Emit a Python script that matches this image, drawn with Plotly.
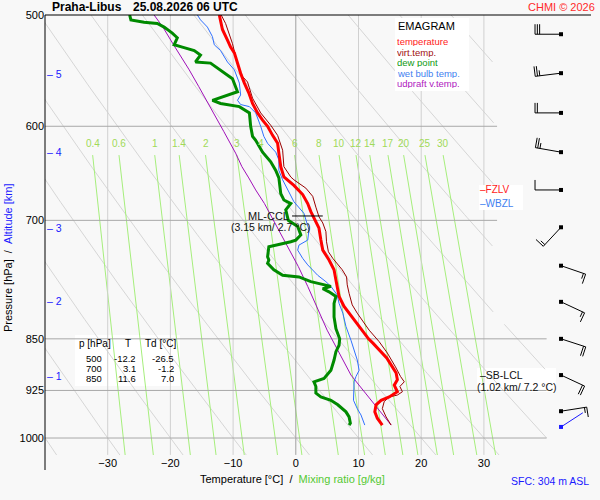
import numpy as np
import plotly.graph_objects as go

FONT = "Arial, Liberation Sans, sans-serif"
BG = "#f8f8f8"

# sounding: pressure [hPa] / temperature [degC]
temp_p = [500, 512, 521, 527, 532, 541, 550, 559, 568, 578, 587, 594, 600, 609, 617, 627, 641, 652, 661, 671,
          681, 690, 700, 709, 723, 735, 747, 759, 772, 782, 793, 806, 820, 833, 842, 850, 856, 866, 877, 890,
          899, 909, 917, 927, 935, 940, 947, 958, 968, 979]
temp_t = [-12.2, -11.7, -10.9, -10.4, -9.8, -9.3, -8.8, -8.2, -7.5, -6.9, -6.1, -5.3, -4.5, -3.7, -2.9, -2.7, -2.4, -1.9, -0.3, 1.1,
          1.9, 2.4, 3.1, 3.7, 4.0, 4.3, 5.3, 6.1, 6.4, 6.6, 6.9, 7.7, 9.0, 10.1, 10.9, 11.6, 12.3, 13.4, 14.5, 15.4,
          16.0, 16.2, 15.7, 16.2, 14.9, 13.6, 12.8, 12.6, 13.0, 13.8]

virt_p = [500, 507, 524, 544, 553, 558, 573, 587, 599, 609, 624, 641, 652, 655, 664, 673, 685, 696, 703, 713,
          725, 737, 745, 753, 759, 768, 778, 789, 804, 815, 833, 838, 854, 870, 890, 904, 912, 919, 927, 932,
          935, 942, 953, 966, 979]
virt_t = [-11.9, -11.2, -10.1, -9.2, -8.5, -7.7, -6.9, -5.6, -4.0, -2.9, -2.1, -1.9, -0.8, -0.3, 1.6, 2.7, 3.2, 3.7, 4.3, 4.8,
          4.9, 5.2, 5.9, 6.7, 7.4, 8.1, 8.2, 8.5, 9.0, 9.8, 11.2, 11.7, 13.3, 14.6, 15.9, 16.7, 17.3, 16.6, 17.0, 16.2,
          14.9, 14.1, 13.8, 14.4, 15.2]

dew_p = [500, 504, 506, 507, 510, 515, 519, 525, 527, 530, 534, 540, 541, 547, 555, 567, 575, 578, 581, 587,
         600, 610, 614, 626, 636, 645, 653, 670, 677, 681, 688, 700, 707, 717, 723, 725, 731, 743, 747, 751,
         759, 766, 768, 774, 778, 780, 783, 787, 793, 802, 820, 836, 850, 859, 868, 880, 895, 907, 912, 919,
         929, 935, 940, 947, 958, 966, 976, 979]
dew_t = [-26.5, -26.3, -24.2, -22.1, -21.0, -19.7, -18.9, -19.4, -18.1, -16.2, -15.2, -16.0, -13.6, -12.0, -10.1, -9.3, -13.3, -12.0, -9.0, -7.4,
         -7.2, -6.9, -6.4, -5.3, -4.0, -3.2, -2.7, -2.4, -1.9, -0.8, -1.6, -1.2, 0.3, 0.8, 0.0, -0.8, -4.3, -4.5, -4.3, -4.5,
         -3.5, -2.1, 0.5, 2.4, 4.3, 5.6, 4.3, 5.3, 6.4, 6.1, 6.1, 6.4, 7.0, 6.9, 6.4, 6.1, 5.6, 4.5, 2.9, 3.2,
         3.2, 4.0, 5.6, 6.7, 8.0, 8.5, 8.7, 8.5]

wet_p = [500, 504, 510, 518, 525, 530, 540, 547, 559, 570, 575, 579, 581, 587, 600, 610, 617, 626, 634, 645,
         655, 668, 679, 692, 700, 711, 723, 729, 735, 745, 753, 766, 774, 780, 791, 802, 815, 833, 852, 866,
         880, 895, 904, 912, 927, 940, 953, 963, 979]
wet_t = [-15.7, -15.2, -14.1, -13.3, -13.0, -12.0, -10.9, -9.8, -9.0, -8.8, -9.3, -8.8, -7.4, -6.4, -5.6, -5.1, -4.5, -3.2, -2.7, -2.7,
         -2.1, -1.1, -0.3, 1.3, 1.6, 2.1, 1.9, 0.5, 0.3, 1.1, 1.9, 3.5, 4.8, 5.6, 6.6, 6.9, 7.5, 8.0, 8.8, 9.3,
         9.8, 10.1, 9.6, 9.3, 9.2, 9.2, 9.8, 10.4, 11.0]

parcel_p = [500, 510, 525, 547, 562, 575, 584, 605, 627, 641, 653, 666, 681, 703, 727, 755, 780, 811, 838, 866,
            902, 929, 951, 979]
parcel_t = [-22.6, -21.2, -19.5, -17.0, -15.5, -14.3, -13.4, -11.5, -9.6, -8.6, -7.5, -6.4, -5.0, -3.3, -1.5, 0.4, 1.9, 3.6, 5.0, 6.7,
            8.8, 11.1, 12.9, 15.2]

# mixing ratio lines [g/kg]: temperature where each line meets 629 hPa and 1030 hPa
mr_labels = ["0.4", "0.6", "1", "1.4", "2", "3", "4", "6", "8", "10", "12", "14", "17", "20", "25", "30"]
mr_t_top = [-32.4, -28.2, -22.5, -18.6, -14.4, -9.4, -5.6, -0.2, 3.7, 6.9, 9.6, 11.8, 14.7, 17.2, 20.6, 23.5]
mr_t_bottom = [-27.2, -22.7, -16.8, -12.7, -8.2, -2.9, 1.0, 6.8, 11.0, 14.3, 17.1, 19.5, 22.6, 25.2, 28.9, 31.9]

# dry adiabats, labelled by their temperature at 1000 hPa
dry_t1000 = [-40, -30, -20, -10, 0, 10, 20, 30, 40, 50, 60, 70, 80, 90]

# winds: level [hPa], direction [deg], speed [kt]
wind_p = [516, 550, 587, 626, 666, 708, 754, 800, 850, 902, 957]
wind_dir = [270, 263, 270, 280, 270, 223, 109, 115, 108, 115, 81]
wind_kt = [30, 25, 20, 25, 10, 15, 15, 15, 20, 20, 15]
sfc_p, sfc_dir, sfc_kt = 982, 57, 3

alt_km = [1, 2, 3, 4, 5]
alt_p = [903, 799, 709, 626, 551]

table_p = [500, 700, 850]
table_t = [-12.2, 3.1, 11.6]
table_td = [-26.5, -1.2, 7.0]

fzlv_p, wbzl_p = 666, 681
ccl_p, ccl_t0, ccl_t1 = 695, -0.6, 4.3
lcl_p = 902

# plot frame (pixels) and axis ranges
X0, X1 = -40.0, 47.08
P_TOP, P_BOT = 500.0, 1028.2
LEFT, TOP, WIDTH, HEIGHT = 45, 15, 546, 440
LOGSPAN = np.log(P_BOT / P_TOP)


def to_px(t, p):
    return LEFT + (t - X0) / (X1 - X0) * WIDTH, TOP + np.log(p / P_TOP) / LOGSPAN * HEIGHT


def from_px(x, y):
    return X0 + (x - LEFT) / WIDTH * (X1 - X0), P_TOP * np.exp((y - TOP) / HEIGHT * LOGSPAN)


def paper(x, y):
    return (x - LEFT) / WIDTH, 1 - (y - TOP) / HEIGHT


def barb(p, direction, speed, t_pos=42.3, staff=26, flen=10, hlen=5.5, gap=2.3):
    bx, by = to_px(t_pos, p)
    a = np.radians(direction)
    ux, uy = np.sin(a), -np.cos(a)
    fx, fy = -uy, ux
    tx, ty = bx + staff * ux, by + staff * uy
    segs = [((bx, by), (tx, ty))]
    full, half = speed // 10, (speed % 10) >= 5
    for i in range(full):
        sx, sy = tx - i * gap * ux, ty - i * gap * uy
        segs.append(((sx, sy), (sx + flen * fx, sy + flen * fy)))
    if half:
        k = full if full else 1
        sx, sy = tx - k * gap * ux, ty - k * gap * uy
        segs.append(((sx, sy), (sx + hlen * fx, sy + hlen * fy)))
    xs, ys = [], []
    for a0, a1 in segs:
        for px_, py_ in (a0, a1):
            t, pp = from_px(px_, py_)
            xs.append(t)
            ys.append(pp)
        xs.append(None)
        ys.append(None)
    return xs, ys


fig = go.Figure()


def line(x, y, color, width=1.0):
    fig.add_trace(go.Scatter(x=x, y=y, mode="lines", line=dict(color=color, width=width),
                             hoverinfo="skip", connectgaps=False))


# dry adiabats, clipped to the diagram outline
pp = np.linspace(500, 1030, 160)
ax_x, ax_y = [], []
for t0 in dry_t1000:
    tt = (t0 + 273.15) * (pp / 1000.0) ** 0.2857 - 273.15
    bad = (tt > 40) | ((pp < 828) & (tt > 31.6))
    ax_x += [None if b else float(v) for v, b in zip(tt, bad)] + [None]
    ax_y += [float(v) for v in pp] + [None]
line(ax_x, ax_y, "#d6d6d6")

# mixing ratio lines
mx, my = [], []
for a, b in zip(mr_t_top, mr_t_bottom):
    mx += [a, b, None]
    my += [629, 1030, None]
line(mx, my, "#a6ee7c")

# isotherms and isobars
for t in [-30, -20, -10, 10, 20, 30]:
    line([t, t], [500, 1028], "#d0d0d0")
line([0, 0], [500, 1028], "#a0a0a0")
for p, tr in zip([600, 700, 850, 925, 1000], [32.1, 32.1, 40, 40, 40]):
    line([X0, tr], [p, p], "#a8a8a8")

# profiles
line(parcel_t, parcel_p, "#a010b8", 1)
line(wet_t, wet_p, "#2f70ff", 1)
line(dew_t, dew_p, "#008a00", 3)
line(virt_t, virt_p, "#990000", 1)
line(temp_t, temp_p, "#ff0000", 3)

# ML-CCL marker
line([ccl_t0, ccl_t1], [ccl_p, ccl_p], "black", 1)

# wind barbs
bx_all, by_all = [], []
for p, d, s in zip(wind_p, wind_dir, wind_kt):
    xs, ys = barb(p, d, s)
    bx_all += xs
    by_all += ys
line(bx_all, by_all, "black", 1)
fig.add_trace(go.Scatter(x=[42.3] * len(wind_p), y=wind_p, mode="markers",
                         marker=dict(symbol="square", size=4, color="black"), hoverinfo="skip"))
xs, ys = barb(sfc_p, sfc_dir, sfc_kt)
line(xs, ys, "#1a1aff", 1)
fig.add_trace(go.Scatter(x=[42.3], y=[sfc_p], mode="markers",
                         marker=dict(symbol="square", size=4, color="#1a1aff"), hoverinfo="skip"))

ann = []


def label(x, y, text, size=10, color="black", anchor="left", **kw):
    xp, yp = paper(x, y)
    ann.append(dict(x=xp, y=yp, xref="paper", yref="paper", text=text, showarrow=False,
                    xanchor=anchor, yanchor="middle", font=dict(size=size, color=color, family=FONT), **kw))


shapes = []


def box(x0, y0, x1, y1, layer="above"):
    a, b = paper(x0, y0)
    c, d = paper(x1, y1)
    shapes.append(dict(type="rect", xref="paper", yref="paper", x0=a, y0=d, x1=c, y1=b,
                       fillcolor="white", line=dict(width=0), layer=layer))


# frame lines
shapes.append(dict(type="line", xref="paper", yref="paper", x0=0, x1=0, y0=paper(0, 470)[1], y1=1,
                   line=dict(color="black", width=1)))
shapes.append(dict(type="line", xref="paper", yref="paper", x0=0, x1=1, y0=1, y1=1,
                   line=dict(color="black", width=1)))

# title
label(50, 7, "<b>Praha-Libus</b>", 12)
label(131, 7, "<b>25.08.2026 06 UTC</b>", 12)
label(597, 7, "CHMI © 2026", 11, "#ff2a2a", "right")

# legend block
box(395, 18, 469, 91)
label(396, 26, "EMAGRAM", 11)
for i, (txt, col) in enumerate([("temperature", "#ff1a1a"), ("virt.temp.", "#a01010"),
                                ("dew point", "#119a11"), ("wet bulb temp.", "#3f7ff0"),
                                ("udpraft v.temp.", "#b020c0")]):
    label(396, 41.5 + 10.5 * i, txt, 9.5, col, height=9, borderpad=0)

# freezing levels
box(479, 185, 523, 210)
label(478, to_px(0, fzlv_p)[1], "–FZLV", 10, "#ff1a1a")
label(478, to_px(0, wbzl_p)[1], "–WBZL", 10, "#3f7ff0")

# CCL / LCL
ycc = to_px(0, ccl_p)[1]
label(291, ycc, "ML-CCL", 11, "#111", "right")
label(229, ycc + 11, "(3.15 km/ 2.7 °C)", 10.5, "#111")
yl = to_px(0, lcl_p)[1]
box(477, 368, 556, 392, "below")
label(478, yl, "–SB-LCL", 10.5, "#111")
label(475, yl + 12, "(1.02 km/ 7.2 °C)", 10.5, "#111")

# table
box(75, 335, 180, 386, "below")
label(77, 343, "p [hPa]", 10)
label(128, 343, "T", 10, anchor="center")
label(143, 343, "Td [°C]", 10)
for i, (p, t, td) in enumerate(zip(table_p, table_t, table_td)):
    y = 358 + 10 * i
    label(103, y, str(p), 9.5, anchor="right", height=9, borderpad=0)
    label(137, y, f"{t:.1f}", 9.5, anchor="right", height=9, borderpad=0)
    label(175, y, f"{td:.1f}", 9.5, anchor="right", height=9, borderpad=0)

# altitude scale
for km, p in zip(alt_km, alt_p):
    ann.append(dict(x=paper(45, 0)[0], y=np.log10(p), xref="paper", yref="y", text=f"– {km}",
                    showarrow=False, xanchor="left", yanchor="middle",
                    font=dict(size=10.5, color="#1a1aff", family=FONT)))

# mixing ratio labels
for t, txt in zip(mr_t_top, mr_labels):
    ann.append(dict(x=t, y=np.log10(617), xref="x", yref="y", text=txt, showarrow=False,
                    xanchor="center", yanchor="middle", font=dict(size=10, color="#a0da58", family=FONT)))

# axis titles
label(8, 258, "Pressure [hPa]\u00a0\u00a0/\u00a0\u00a0<span style='color:#1a1aff'>Altitude [km]</span>",
      11, anchor="center", textangle=-90)
label(292, 479, "Temperature [°C]\u00a0\u00a0/\u00a0\u00a0<span style='color:#55c933'>Mixing ratio [g/kg]</span>",
      11, anchor="center")
label(591, 481, "SFC: 304 m ASL", 10.5, "#1a1aff", "right")

fig.update_layout(
    width=600, height=500,
    margin=dict(l=LEFT, r=600 - LEFT - WIDTH, t=TOP, b=500 - TOP - HEIGHT),
    paper_bgcolor=BG, plot_bgcolor=BG, showlegend=False,
    xaxis=dict(range=[X0, X1], tickvals=[-30, -20, -10, 0, 10, 20, 30], showgrid=False, zeroline=False,
               showline=False, ticks="", automargin=False,
               tickfont=dict(size=11, family=FONT, color="black")),
    yaxis=dict(type="log", range=[np.log10(P_BOT), np.log10(P_TOP)],
               tickvals=[500, 600, 700, 850, 925, 1000], ticktext=["500", "600", "700", "850", "925", "1000"],
               showgrid=False, zeroline=False, showline=False, ticks="", automargin=False,
               tickfont=dict(size=11, family=FONT, color="black")),
    shapes=shapes, annotations=ann,
)

fig.write_html("out.html", config={"displayModeBar": False},
               post_script="document.body.style.margin='0px';")
